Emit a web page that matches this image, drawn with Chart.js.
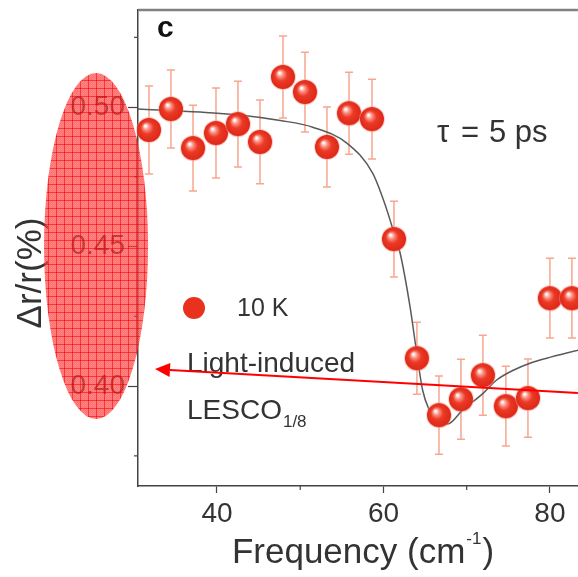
<!DOCTYPE html>
<html>
<head>
<meta charset="utf-8">
<script src="https://cdn.jsdelivr.net/npm/chart.js@4.4.0/dist/chart.umd.min.js"></script>
<style>
  html, body { margin: 0; padding: 0; background: #fff; overflow: hidden; }
</style>
</head>
<body>
<canvas id="chart" width="578" height="577"></canvas>
<script>
// measured points (10 K, tau = 5 ps)
const frequency = [31.83, 34.47, 37.12, 39.88, 42.52, 45.17, 47.93, 50.57, 53.21, 55.86,
  58.62, 61.26, 64.02, 66.67, 69.31, 71.95, 74.71, 77.36, 80.0, 82.64];
const deltaR = [0.4918, 0.4993, 0.4853, 0.4907, 0.4939, 0.4875, 0.5108, 0.5054, 0.4857, 0.4978,
  0.4957, 0.4527, 0.4100, 0.3896, 0.3953, 0.4039, 0.3928, 0.3957, 0.4315, 0.4315];
const deltaRErr = [0.0158, 0.014, 0.0154, 0.0161, 0.0154, 0.015, 0.0147, 0.0143, 0.0143, 0.0147,
  0.0143, 0.0136, 0.0129, 0.014, 0.0143, 0.0143, 0.0143, 0.014, 0.0143, 0.0143];

// fitted curve
const fitFrequency = [30.5, 38, 43, 47.6, 51.5, 55.6, 58.7, 60.2, 61.0, 62.0, 63.2, 64.0,
  64.7, 65.5, 66.3, 67.7, 69.5, 72.0, 73.6, 75.6, 77.6, 79.6, 83.4];
const fitDeltaR = [0.4993, 0.4982, 0.4971, 0.4952, 0.4928, 0.4871, 0.4763, 0.4650, 0.4575, 0.4477, 0.4283, 0.4118,
  0.3986, 0.3914, 0.3878, 0.3864, 0.3914, 0.3975, 0.4022, 0.4057, 0.4082, 0.4100, 0.4129];

const xTickValues = [40, 60, 80];
const xTickLabels = ["40", "60", "80"];
const yTickValues = [0.40, 0.45, 0.50];
const yTickLabels = ["0.40", "0.45", "0.50"];

const FONT = "'Liberation Sans', Arial, Helvetica, sans-serif";
const RED = "#e8321e";

function majorLabel(value, values, labels) {
  const i = values.findIndex(v => Math.abs(v - value) < 1e-6);
  return i >= 0 ? labels[i] : "";
}

function makeSphere(r) {
  const c = document.createElement("canvas");
  const s = Math.ceil(r * 2 + 4);
  c.width = c.height = s;
  const g = c.getContext("2d");
  const cx = s / 2, cy = s / 2;
  g.beginPath();
  g.arc(cx, cy, r + 1, 0, Math.PI * 2);
  g.fillStyle = "rgba(255,150,135,0.45)";
  g.fill();
  const grad = g.createRadialGradient(cx - r * 0.3, cy - r * 0.35, r * 0.05, cx, cy, r);
  grad.addColorStop(0, "#ffffff");
  grad.addColorStop(0.24, "#fa8a7c");
  grad.addColorStop(0.5, "#ec3a26");
  grad.addColorStop(1, "#dc2818");
  g.beginPath();
  g.arc(cx, cy, r, 0, Math.PI * 2);
  g.fillStyle = grad;
  g.fill();
  return c;
}

function makeHatch() {
  const c = document.createElement("canvas");
  c.width = c.height = 8;
  const g = c.getContext("2d");
  g.fillStyle = "rgba(255,45,45,0.68)";
  g.fillRect(0, 0, 8, 8);
  g.fillStyle = "rgba(255,255,255,0.14)";
  for (let i = 0; i < 8; i++) {
    for (let j = 0; j < 8; j++) {
      if ((i + j) % 2 === 0) g.fillRect(i, j, 1, 1);
    }
  }
  g.fillStyle = "rgba(240,0,0,0.55)";
  g.fillRect(0, 0, 8, 1);
  g.fillRect(0, 0, 1, 8);
  return c;
}

// annotation overlay, in data units
const ellipseCenter = { x: 25.47, y: 0.4502 };
const ellipseRadius = { x: 6.25, y: 0.062 };
const arrowFrom = { x: 83.36, y: 0.3975 };
const arrowTo = { x: 32.55, y: 0.4061 };

function noPadding(scale) {
  scale.paddingTop = 0;
  scale.paddingBottom = 0;
  scale.paddingLeft = 0;
  scale.paddingRight = 0;
}

const errorBars = {
  id: "errorBars",
  beforeDatasetsDraw(chart) {
    const { ctx, scales: { x, y } } = chart;
    ctx.save();
    ctx.strokeStyle = "#f7a68f";
    ctx.lineWidth = 1.5;
    frequency.forEach((f, i) => {
      const px = x.getPixelForValue(f);
      const top = y.getPixelForValue(deltaR[i] + deltaRErr[i]);
      const bot = y.getPixelForValue(deltaR[i] - deltaRErr[i]);
      ctx.beginPath();
      ctx.moveTo(px, top); ctx.lineTo(px, bot);
      ctx.moveTo(px - 4, top); ctx.lineTo(px + 4, top);
      ctx.moveTo(px - 4, bot); ctx.lineTo(px + 4, bot);
      ctx.stroke();
    });
    ctx.restore();
  }
};

const frameAndTexts = {
  id: "frameAndTexts",
  beforeDatasetsDraw(chart) {
    const { ctx, chartArea, scales: { x, y } } = chart;
    ctx.save();
    // top frame line
    ctx.strokeStyle = "#808080";
    ctx.lineWidth = 2.5;
    ctx.beginPath();
    ctx.moveTo(chartArea.left, chartArea.top);
    ctx.lineTo(chartArea.right, chartArea.top);
    ctx.stroke();
    // minor ticks
    ctx.strokeStyle = "#444";
    ctx.lineWidth = 1.2;
    y.ticks.forEach(t => {
      if (majorLabel(t.value, yTickValues, yTickLabels)) return;
      const py = y.getPixelForValue(t.value);
      ctx.beginPath();
      ctx.moveTo(chartArea.left - 4, py); ctx.lineTo(chartArea.left, py);
      ctx.stroke();
    });
    x.ticks.forEach(t => {
      if (majorLabel(t.value, xTickValues, xTickLabels)) return;
      const px = x.getPixelForValue(t.value);
      ctx.beginPath();
      ctx.moveTo(px, chartArea.bottom); ctx.lineTo(px, chartArea.bottom + 4);
      ctx.stroke();
    });
    ctx.restore();
  },
  afterDatasetsDraw(chart) {
    const { ctx } = chart;
    ctx.save();
    ctx.textBaseline = "alphabetic";
    ctx.textAlign = "left";
    ctx.fillStyle = "#111";
    ctx.font = "bold 30px " + FONT;
    ctx.fillText("c", 157, 37);
    ctx.fillStyle = "#333";
    ctx.font = "31px " + FONT;
    ctx.fillText("τ", 437, 142);
    ctx.fillText("=", 461, 142);
    ctx.fillText("5 ps", 489, 142);
    // legend
    ctx.fillStyle = RED;
    ctx.beginPath();
    ctx.arc(194, 308, 11, 0, Math.PI * 2);
    ctx.fill();
    ctx.fillStyle = "#333";
    ctx.font = "25px " + FONT;
    ctx.fillText("10 K", 237, 316);
    ctx.font = "28px " + FONT;
    ctx.fillText("Light-induced", 187, 372);
    ctx.fillText("LESCO", 187, 419);
    const w = ctx.measureText("LESCO").width;
    ctx.font = "17px " + FONT;
    ctx.fillText("1/8", 187 + w + 1, 427);
    // x axis title
    ctx.font = "35px " + FONT;
    const a = "Frequency (cm", b = ")";
    const wa = ctx.measureText(a).width;
    const wb = ctx.measureText(b).width;
    ctx.font = "17px " + FONT;
    const ws = ctx.measureText("-1").width;
    const total = wa + ws + wb + 2;
    const x0 = 363 - total / 2;
    ctx.font = "35px " + FONT;
    ctx.fillText(a, x0, 563);
    ctx.fillText(b, x0 + wa + ws + 2, 563);
    ctx.font = "17px " + FONT;
    ctx.fillText("-1", x0 + wa + 1, 544);
    // y axis title
    ctx.translate(31, 273);
    ctx.rotate(-Math.PI / 2);
    ctx.textAlign = "center";
    ctx.textBaseline = "middle";
    ctx.font = "35px " + FONT;
    ctx.fillText("Δr/r(%)", 0, 0);
    ctx.restore();
  },
  afterDraw(chart) {
    const { ctx, scales: { x, y } } = chart;
    ctx.save();
    // hatched ellipse
    const cx = x.getPixelForValue(ellipseCenter.x);
    const cy = y.getPixelForValue(ellipseCenter.y);
    const rx = x.getPixelForValue(ellipseCenter.x + ellipseRadius.x) - cx;
    const ry = cy - y.getPixelForValue(ellipseCenter.y + ellipseRadius.y);
    ctx.fillStyle = ctx.createPattern(makeHatch(), "repeat");
    ctx.beginPath();
    ctx.ellipse(cx, cy, rx, ry, 0, 0, Math.PI * 2);
    ctx.fill();
    // arrow
    const x1 = x.getPixelForValue(arrowFrom.x), y1 = y.getPixelForValue(arrowFrom.y);
    const x2 = x.getPixelForValue(arrowTo.x), y2 = y.getPixelForValue(arrowTo.y);
    const ang = Math.atan2(y2 - y1, x2 - x1);
    const hl = 15, hw = 7;
    const bx = x2 - hl * Math.cos(ang), by = y2 - hl * Math.sin(ang);
    ctx.strokeStyle = "#ff0000";
    ctx.fillStyle = "#ff0000";
    ctx.lineWidth = 2;
    ctx.beginPath();
    ctx.moveTo(x1, y1); ctx.lineTo(bx, by);
    ctx.stroke();
    ctx.beginPath();
    ctx.moveTo(x2, y2);
    ctx.lineTo(bx + hw * Math.sin(ang), by - hw * Math.cos(ang));
    ctx.lineTo(bx - hw * Math.sin(ang), by + hw * Math.cos(ang));
    ctx.closePath();
    ctx.fill();
    ctx.restore();
  }
};

new Chart(document.getElementById("chart"), {
  type: "scatter",
  data: {
    datasets: [
      {
        label: "10 K",
        data: frequency.map((f, i) => ({ x: f, y: deltaR[i] })),
        pointStyle: makeSphere(12),
        pointRadius: 0.1,
        pointHoverRadius: 0.1,
        pointBorderWidth: 0,
        clip: false,
        order: 0
      },
      {
        label: "fit",
        data: fitFrequency.map((f, i) => ({ x: f, y: fitDeltaR[i] })),
        showLine: true,
        borderColor: "#5a5a5a",
        borderWidth: 1.5,
        pointRadius: 0,
        pointHoverRadius: 0,
        pointBorderWidth: 0,
        cubicInterpolationMode: "monotone",
        order: 1
      }
    ]
  },
  options: {
    responsive: false,
    animation: false,
    events: [],
    layout: { padding: { top: 10, right: 0, bottom: 0, left: 0 } },
    plugins: { legend: { display: false }, tooltip: { enabled: false } },
    scales: {
      x: {
        type: "linear",
        min: 30.51,
        max: 83.36,
        afterFit(scale) { scale.height = 91; noPadding(scale); },
        ticks: {
          stepSize: 10,
          includeBounds: false,
          padding: 4,
          color: "#333",
          font: { family: FONT, size: 28 },
          maxRotation: 0,
          autoSkip: false,
          callback: v => majorLabel(v, xTickValues, xTickLabels)
        },
        grid: {
          drawOnChartArea: false,
          tickLength: 7,
          tickWidth: 1.2,
          tickColor: c => majorLabel(c.tick.value, xTickValues, xTickLabels) ? "#444" : "rgba(0,0,0,0)"
        },
        border: { color: "#444", width: 1.5 },
        title: { display: false }
      },
      y: {
        min: 0.3642,
        max: 0.5348,
        afterFit(scale) { scale.width = 138; noPadding(scale); },
        ticks: {
          stepSize: 0.025,
          includeBounds: false,
          padding: 3,
          color: "#333",
          font: { family: FONT, size: 28 },
          autoSkip: false,
          callback: v => majorLabel(v, yTickValues, yTickLabels)
        },
        grid: {
          drawOnChartArea: false,
          tickLength: 10,
          tickWidth: 1.2,
          tickColor: c => majorLabel(c.tick.value, yTickValues, yTickLabels) ? "#444" : "rgba(0,0,0,0)"
        },
        border: { color: "#444", width: 1.5 },
        title: { display: false }
      }
    }
  },
  plugins: [errorBars, frameAndTexts]
});
</script>
</body>
</html>
